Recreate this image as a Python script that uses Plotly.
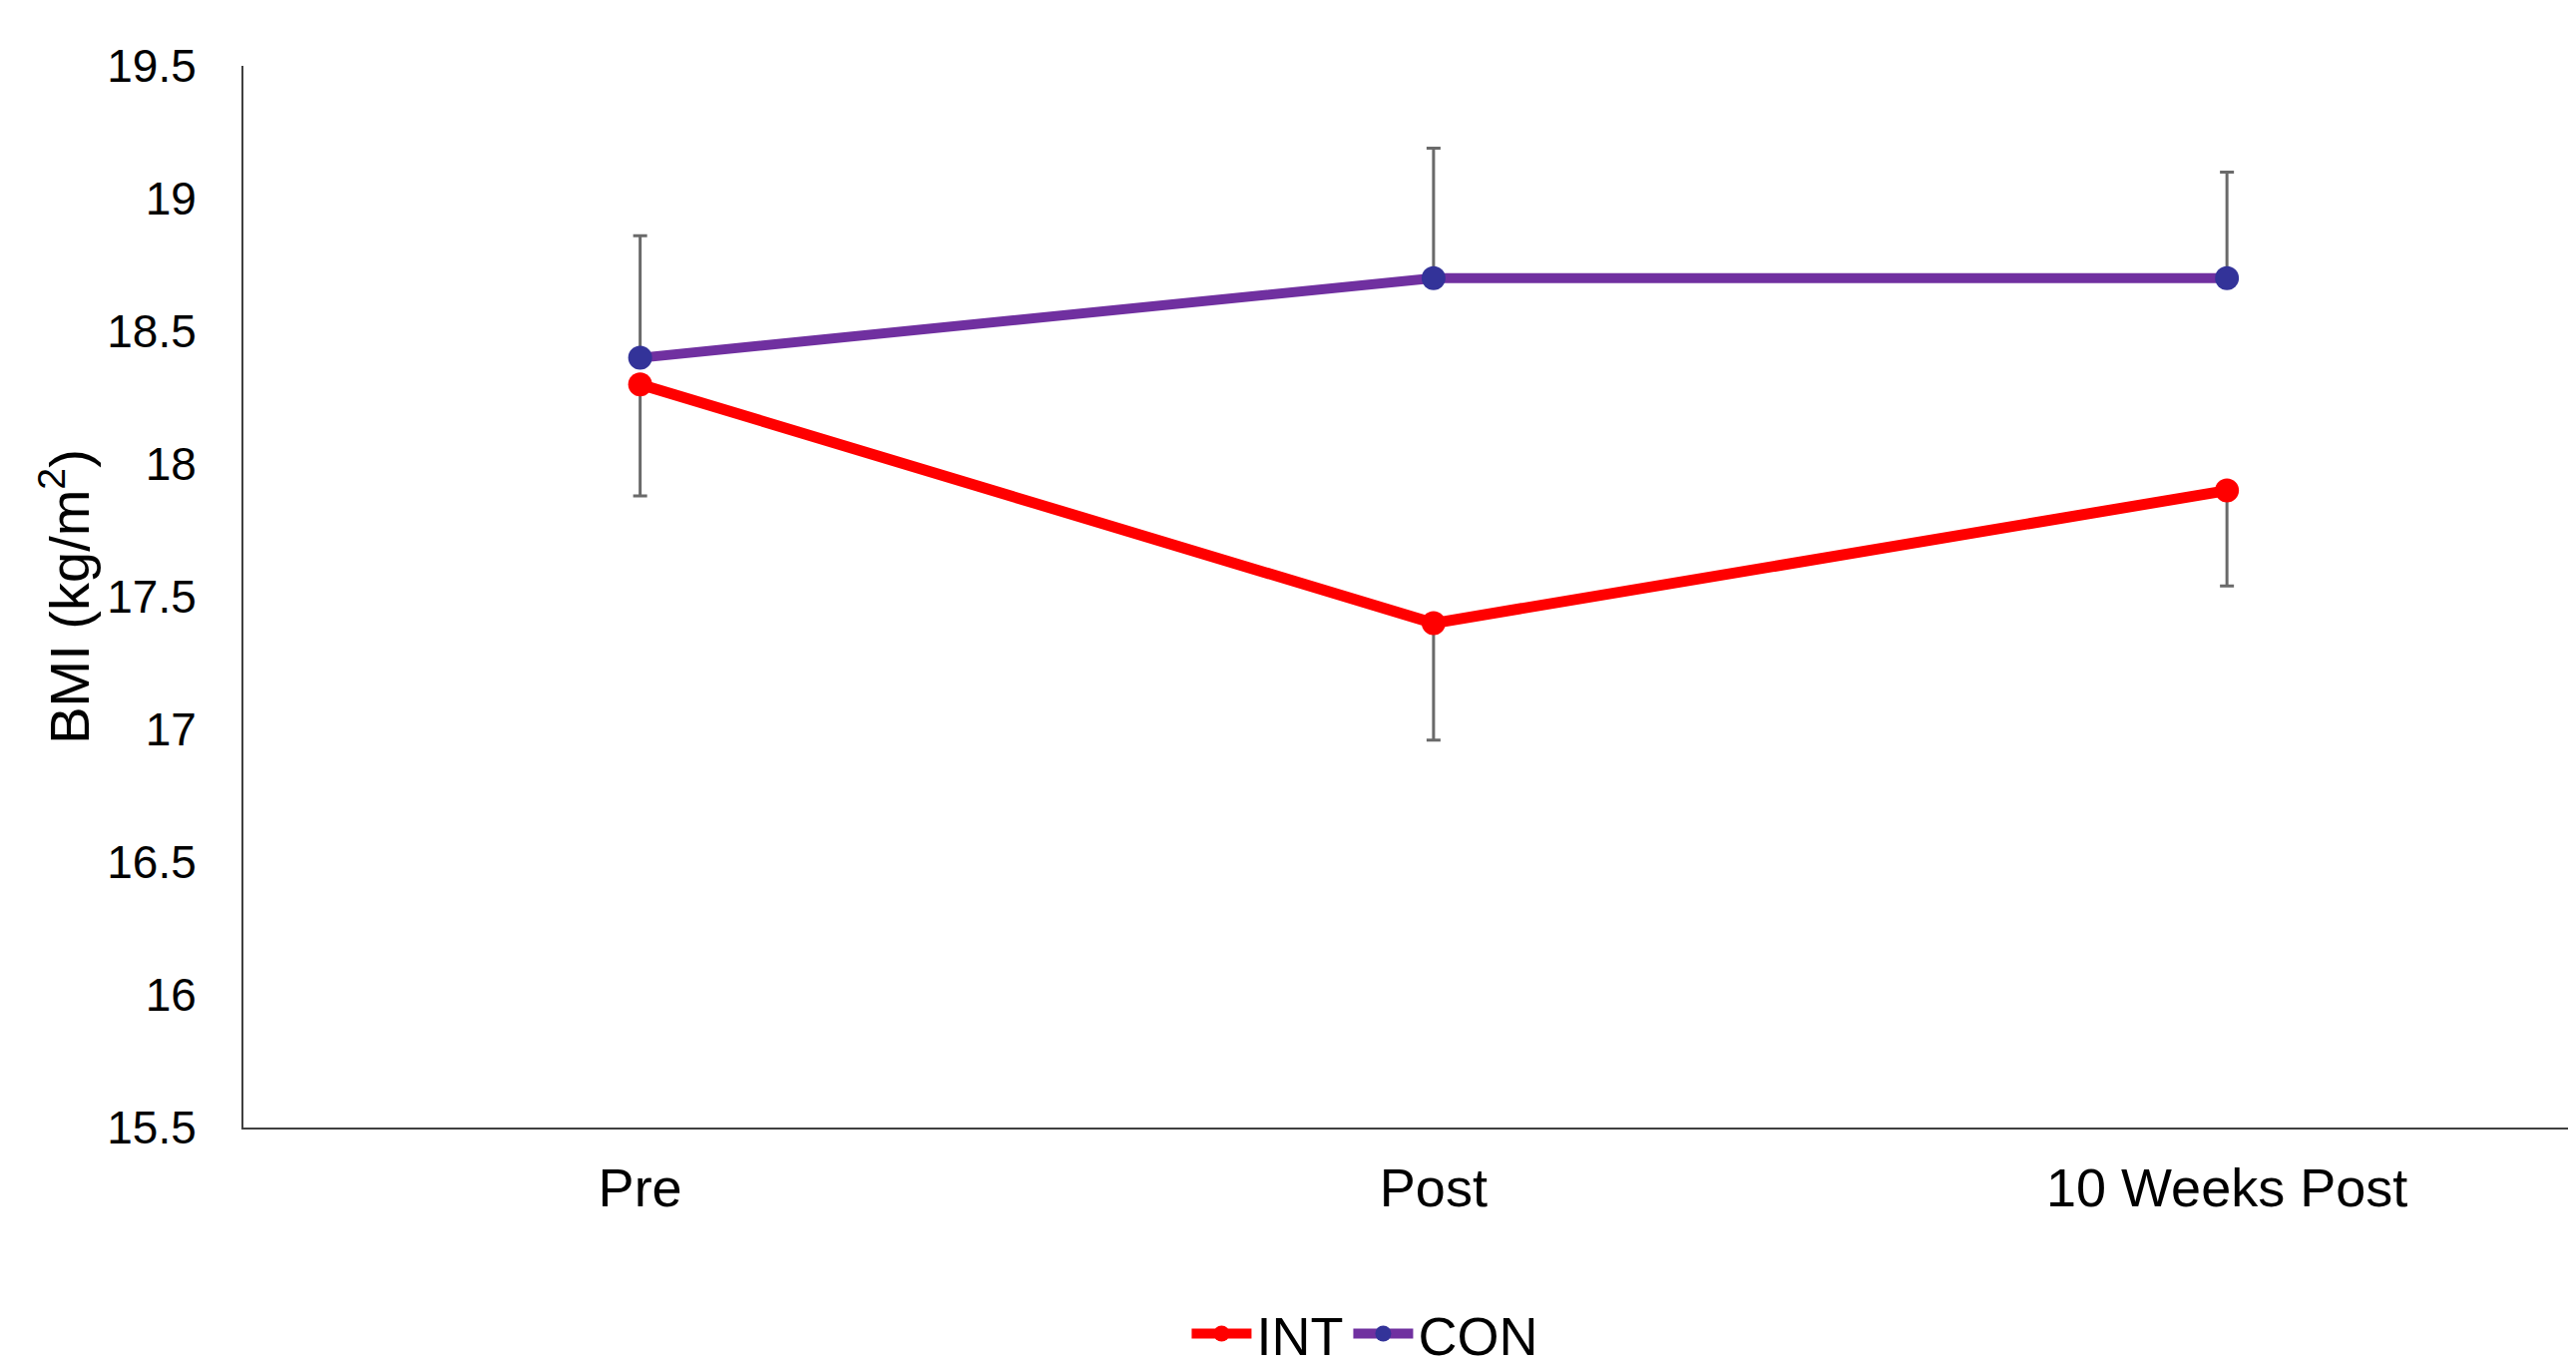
import plotly.graph_objects as go

categories = ["Pre", "Post", "10 Weeks Post"]
int_values = [18.3, 17.4, 17.9]
int_err_minus = [0.42, 0.44, 0.36]
con_values = [18.4, 18.7, 18.7]
con_err_plus = [0.46, 0.49, 0.40]
y_ticks = [15.5, 16, 16.5, 17, 17.5, 18, 18.5, 19, 19.5]
y_tick_labels = ["15.5", "16", "16.5", "17", "17.5", "18", "18.5", "19", "19.5"]

FONT = "Liberation Sans, Arial, sans-serif"
ERR_COLOR = "#6a6a6a"

fig = go.Figure()
fig.add_trace(go.Scatter(
    x=categories, y=int_values, name="INT", mode="lines+markers",
    line=dict(color="#FF0000", width=11),
    marker=dict(color="#FF0000", size=24),
    error_y=dict(type="data", symmetric=False, array=[0, 0, 0],
                 arrayminus=int_err_minus, color=ERR_COLOR, thickness=3, width=7),
))
fig.add_trace(go.Scatter(
    x=categories, y=con_values, name="CON", mode="lines+markers",
    line=dict(color="#7030A0", width=10),
    marker=dict(color="#333399", size=24),
    error_y=dict(type="data", symmetric=False, array=con_err_plus,
                 arrayminus=[0, 0, 0], color=ERR_COLOR, thickness=3, width=7),
))

fig.update_layout(
    width=2582, height=1370,
    margin=dict(l=236, r=0, t=58, b=248, autoexpand=False),
    paper_bgcolor="white", plot_bgcolor="white",
    font=dict(family=FONT, color="black", size=48),
    showlegend=True,
    legend=dict(orientation="h", xref="container", yref="container",
                x=0.5267, xanchor="center", y=0.03, yanchor="middle",
                font=dict(size=54, family=FONT), itemwidth=60, traceorder="normal"),
)
fig.update_xaxes(
    type="category", range=[-0.5, 2.45], automargin=False,
    showline=True, linecolor="#404040", linewidth=2,
    showgrid=False, zeroline=False, ticks="",
    tickfont=dict(size=54, family=FONT), ticklabelstandoff=12,
)
fig.update_yaxes(
    range=[15.5, 19.5], tickvals=y_ticks, ticktext=y_tick_labels, automargin=False,
    showline=True, linecolor="#404040", linewidth=2,
    showgrid=False, zeroline=False, ticks="",
    tickfont=dict(size=46, family=FONT), ticklabelstandoff=36,
    title=dict(text="BMI (kg/m<sup>2</sup>)", font=dict(size=56, family=FONT), standoff=0),
)

fig.write_html("out.html")
